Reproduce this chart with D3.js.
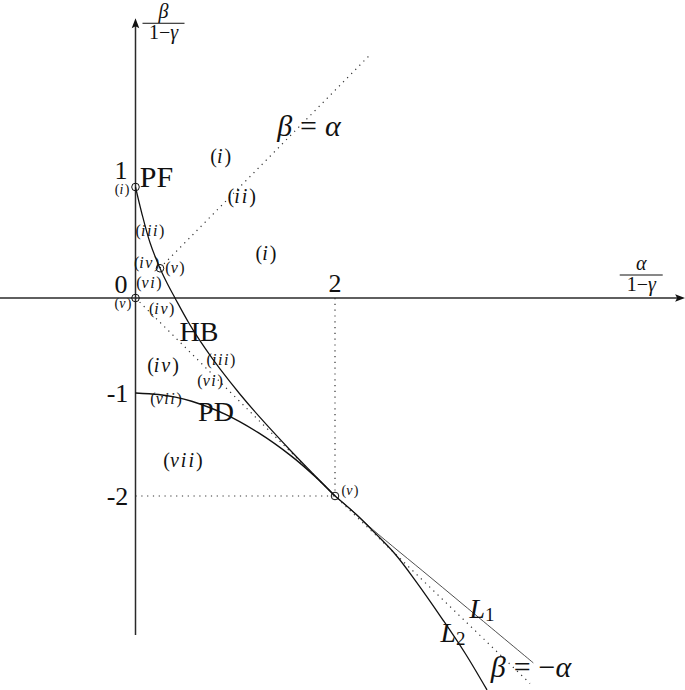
<!DOCTYPE html>
<html><head><meta charset="utf-8">
<script src="https://cdn.jsdelivr.net/npm/d3@7"></script>
<style>body{margin:0;background:#fff}svg{display:block}</style>
</head><body>
<script>
// ---- data ----
const yTickValues = [-2, -1, 0, 1];
const yTickLabels = ["-2", "-1", "0", "1"];
const xTickValues = [2];
const xTickLabels = ["2"];
const xAxisExtent = [-1.36, 5.51];
const yAxisExtent = [-3.35, 2.52];

const hbCurve = [[0,1.0],[0.06,0.775],[0.145,0.50],[0.2456,0.268],[0.316,0.135],[0.396,0.0],[0.546,-0.283],[0.697,-0.528],[0.847,-0.747],[1.048,-1.012],[1.248,-1.237],[1.549,-1.553],[1.769,-1.773],[2,-2]];
const l1Curve = [[2,-2],[2.2,-2.165],[2.384,-2.33],[2.952,-2.786],[3.454,-3.19],[3.988,-3.62]];
const pdCurve = [[0,-1],[0.23,-1.015],[0.4,-1.04],[0.563,-1.08],[0.897,-1.205],[1.231,-1.385],[1.566,-1.615],[1.8,-1.81],[2,-2]];
const l2Curve = [[2,-2],[2.2,-2.168],[2.381,-2.34],[2.602,-2.563],[2.802,-2.816],[3.083,-3.204],[3.303,-3.524],[3.524,-3.883]];
const lineBetaAlpha = [[0.245,0.27],[2.35,2.19]];
const lineBetaMinusAlpha = [[0,0],[2,-2],[3.955,-3.82]];
const guideVertical = [[2,0],[2,-2]];
const guideHorizontal = [[0,-2],[2,-2]];
const markedPoints = [[0,1],[0.2456,0.268],[0,0],[2,-2]];

const regionNames = ["(i)","(i)","(ii)","(iii)","(i)","(iv)","(v)","(vi)","(v)","(iv)","(iv)","(iii)","(vi)","(vii)","(vii)","(v)"];
const regionA = [-0.135,0.854,1.065,0.145,1.308,0.112,0.396,0.135,-0.125,0.263,0.276,0.857,0.747,0.306,0.476,2.15];
const regionB = [0.985,1.282,0.921,0.613,0.405,0.320,0.282,0.147,-0.05,-0.1,-0.705,-0.647,-0.858,-1.049,-1.65,-1.942];
const regionSize = [14,20,20,16,20,16,16,16,14,16,20,16,16,16,20,14];

const curveNames = ["PF","HB","PD"];
const curveNameA = [0.21,0.637,0.807];
const curveNameB = [1.099,-0.355,-1.184];

// ---- layout ----
const W = 685, H = 690;
const svg = d3.select("body").append("svg").attr("width", W).attr("height", H);
const x = d3.scaleLinear().domain([0, 2]).range([135.5, 335]);
const y = d3.scaleLinear().domain(yTickValues).range([496, 393, 298, 187]);
const FONT = "'Liberation Serif', 'DejaVu Serif', serif";
const line = d3.line().x(d => x(d[0])).y(d => y(d[1]));
const smooth = d3.line().x(d => x(d[0])).y(d => y(d[1])).curve(d3.curveCatmullRom.alpha(0.5));

// axes
const axisColor = "#2a2a2a";
svg.append("line").attr("x1", x(xAxisExtent[0])).attr("x2", x(xAxisExtent[1]) - 6)
  .attr("y1", y(0)).attr("y2", y(0)).attr("stroke", axisColor).attr("stroke-width", 1.5);
svg.append("line").attr("x1", x(0)).attr("x2", x(0))
  .attr("y1", y(yAxisExtent[0])).attr("y2", y(yAxisExtent[1]) + 6).attr("stroke", axisColor).attr("stroke-width", 1.5);
// arrowheads
const xt = [x(xAxisExtent[1]), y(0)];
svg.append("path").attr("d", `M${xt[0]},${xt[1]} L${xt[0]-10},${xt[1]-3.8} L${xt[0]-8},${xt[1]} L${xt[0]-10},${xt[1]+3.8} Z`).attr("fill", "#111");
const yt = [x(0), y(yAxisExtent[1])];
svg.append("path").attr("d", `M${yt[0]},${yt[1]} L${yt[0]-3.8},${yt[1]+10} L${yt[0]},${yt[1]+8} L${yt[0]+3.8},${yt[1]+10} Z`).attr("fill", "#111");

// dotted guides
const dot = {stroke: "#333", "stroke-width": 1.2, "stroke-dasharray": "1.2,4.6", fill: "none"};
[lineBetaAlpha, lineBetaMinusAlpha, guideVertical, guideHorizontal].forEach(pts => {
  const p = svg.append("path").attr("d", line(pts));
  Object.entries(dot).forEach(([k, v]) => p.attr(k, v));
});

// curves
svg.append("path").attr("d", smooth(hbCurve)).attr("fill", "none").attr("stroke", "#111").attr("stroke-width", 1.25);
svg.append("path").attr("d", smooth(pdCurve)).attr("fill", "none").attr("stroke", "#111").attr("stroke-width", 1.4);
svg.append("path").attr("d", smooth(l1Curve)).attr("fill", "none").attr("stroke", "#222").attr("stroke-width", 0.8);
svg.append("path").attr("d", smooth(l2Curve)).attr("fill", "none").attr("stroke", "#111").attr("stroke-width", 1.3);

// marked points
svg.selectAll("circle.pt").data(markedPoints).join("circle").attr("class", "pt")
  .attr("cx", d => x(d[0])).attr("cy", d => y(d[1])).attr("r", 3.8)
  .attr("fill", "none").attr("stroke", "#111").attr("stroke-width", 1);

// math text helper: latin/greek letters italic, rest upright
function mathText(sel, str) {
  const re = /([A-Za-z\u03b1-\u03c9]+)|([^A-Za-z\u03b1-\u03c9]+)/g;
  let m;
  while ((m = re.exec(str)) !== null) {
    const t = sel.append("tspan").text(m[0]);
    if (m[1]) t.attr("font-style", "italic").attr("letter-spacing", "0.1em");
  }
}

// tick labels
function tickLabel(px, py, txt) {
  svg.append("text").attr("x", px).attr("y", py).attr("text-anchor", "middle")
    .attr("dominant-baseline", "central").attr("font-family", FONT).attr("font-size", 26).attr("fill", "#111").text(txt);
}
yTickValues.forEach((v, i) => {
  if (v > 0) tickLabel(x(0) - 14.5, y(v) - 17, yTickLabels[i]);
  else if (v === 0) tickLabel(x(0) - 14.5, y(v) - 14, yTickLabels[i]);
  else tickLabel(x(0) - 18, y(v), yTickLabels[i]);
});
xTickValues.forEach((v, i) => tickLabel(x(v), y(0) - 15, xTickLabels[i]));

// region labels
regionNames.forEach((n, i) => {
  const t = svg.append("text").attr("x", x(regionA[i])).attr("y", y(regionB[i]))
    .attr("text-anchor", "middle").attr("dominant-baseline", "central")
    .attr("font-family", FONT).attr("font-size", regionSize[i]).attr("fill", "#111");
  mathText(t, n);
});
// curve names
curveNames.forEach((n, i) => {
  svg.append("text").attr("x", x(curveNameA[i])).attr("y", y(curveNameB[i]))
    .attr("text-anchor", "middle").attr("dominant-baseline", "central")
    .attr("font-family", FONT).attr("font-size", n === "PF" ? 30 : 28).attr("fill", "#111").text(n);
});
// math labels
function bigMath(a, b, parts, size) {
  const t = svg.append("text").attr("x", x(a)).attr("y", y(b)).attr("text-anchor", "middle")
    .attr("dominant-baseline", "central").attr("font-family", FONT).attr("font-size", size).attr("fill", "#111");
  parts.forEach(p => {
    const s = t.append("tspan").text(p[0]);
    if (p[1]) s.attr("font-style", "italic");
    if (p[2]) s.attr("font-size", p[2]).attr("dy", p[3]);
    if (p[4]) s.attr("dx", p[4]);
  });
}
bigMath(1.739, 1.559, [["β", 1], ["=", 0, null, null, 8], ["α", 1, null, null, 8]], 30);
bigMath(3.965, -3.65, [["β", 1], ["=", 0, null, null, 8], ["−", 0, null, null, 8], ["α", 1]], 30);
bigMath(3.474, -3.087, [["L", 1], ["1", 0, 19, 6]], 28);
bigMath(3.183, -3.32, [["L", 1], ["2", 0, 19, 6]], 28);

// axis fraction labels
function fracLabel(cx, barY, halfW, num) {
  const g = svg.append("g");
  g.append("text").attr("x", cx).attr("y", barY - 5).attr("text-anchor", "middle")
    .attr("font-family", FONT).attr("font-size", 20).attr("font-style", "italic").attr("fill", "#111").text(num);
  g.append("line").attr("x1", cx - halfW).attr("x2", cx + halfW).attr("y1", barY).attr("y2", barY)
    .attr("stroke", "#111").attr("stroke-width", 1);
  const d = g.append("text").attr("x", cx).attr("y", barY + 16).attr("text-anchor", "middle")
    .attr("font-family", FONT).attr("font-size", 20).attr("fill", "#111");
  d.append("tspan").text("1−");
  d.append("tspan").attr("font-style", "italic").text("γ");
}
fracLabel(x(0) + 28, y(yAxisExtent[1]) + 5, 21, "β");
fracLabel(x(5.07), y(0) - 23, 21.5, "α");
</script>
</body></html>
